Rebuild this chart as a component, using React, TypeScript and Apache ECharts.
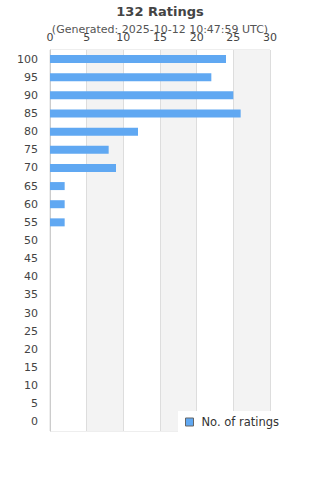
import React, { useEffect, useRef } from "react";
import * as echarts from "echarts";

const categories = ["0", "5", "10", "15", "20", "25", "30", "35", "40", "45", "50", "55", "60", "65", "70", "75", "80", "85", "90", "95", "100"];
const ratings = [0, 0, 0, 0, 0, 0, 0, 0, 0, 0, 0, 2, 2, 2, 9, 8, 12, 26, 25, 22, 24];
const xTicks = [0, 5, 10, 15, 20, 25, 30];
const titleText = "132 Ratings";
const subText = "(Generated: 2025-10-12 10:47:59 UTC)";
const seriesName = "No. of ratings";

export default function App() {
  const ref = useRef<HTMLDivElement>(null);
  useEffect(() => {
    if (!ref.current) return;
    const chart = echarts.init(ref.current, null, { renderer: "svg" });
    const font = "DejaVu Sans";
    chart.setOption({
      animation: false,
      textStyle: { fontFamily: font },
      title: {
        text: titleText,
        subtext: subText,
        left: "center",
        top: 0,
        itemGap: 6,
        textStyle: { fontSize: 13, fontWeight: "bold", color: "#444", fontFamily: font },
        subtextStyle: { fontSize: 11, color: "#555", fontFamily: font },
      },
      grid: {
        left: 50,
        right: 50,
        top: 50,
        bottom: 49,
        show: true,
        borderColor: "#ddd",
        borderWidth: 1,
        backgroundColor: "transparent",
      },
      legend: {
        data: [{ name: seriesName, icon: "rect" }],
        left: 178,
        top: 411,
        padding: [5, 8, 5, 7],
        backgroundColor: "#fff",
        itemWidth: 8,
        itemHeight: 8,
        itemStyle: { borderColor: "#666", borderWidth: 1 },
        textStyle: { fontSize: 11.5, color: "#333", fontFamily: font, padding: [0, 0, 0, 3] },
      },
      xAxis: {
        type: "value",
        position: "top",
        min: xTicks[0],
        max: xTicks[xTicks.length - 1],
        interval: 5,
        axisLine: { show: false },
        axisTick: { show: false },
        axisLabel: { fontSize: 11, color: "#444", margin: 7 },
        splitLine: { show: true, lineStyle: { color: "#ddd", width: 1 } },
        splitArea: { show: true, areaStyle: { color: ["#fff", "#f3f3f3"] } },
      },
      yAxis: {
        type: "category",
        data: categories,
        axisLine: { show: true, lineStyle: { color: "#ccc" } },
        axisTick: { show: false },
        axisLabel: { fontSize: 11, color: "#444", margin: 12 },
        splitLine: { show: false },
      },
      series: [
        {
          name: seriesName,
          type: "bar",
          data: ratings.map((v) => (v === 0 ? "-" : v)),
          barWidth: 8,
          itemStyle: { color: "#60a8f2", borderWidth: 0 },
          legendHoverLink: false,
        },
      ],
    });
    return () => chart.dispose();
  }, []);
  return (
    <div
      ref={ref}
      style={{ position: "fixed", left: 0, top: 0, width: 320, height: 480, background: "#fff" }}
    />
  );
}
